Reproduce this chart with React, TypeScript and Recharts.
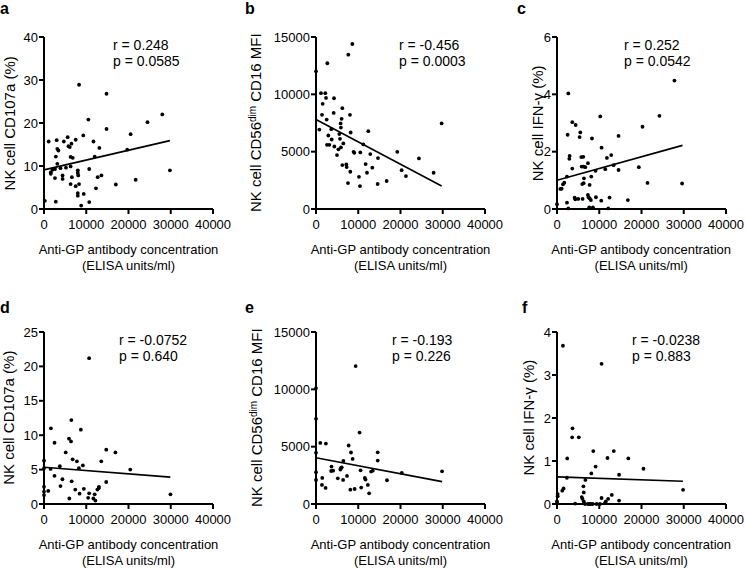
import React from 'react'
import { ScatterChart, Scatter, XAxis, YAxis, ReferenceLine } from 'recharts'

type Pt = { x: number; y: number }

const pts = (rows: number[][]): Pt[] => rows.map(([x, y]) => ({ x, y }))

const xTicks = [0, 10000, 20000, 30000, 40000]

// a: NK cell CD107a (%), all
const cd107aA = pts([
  [200, 1.9], [1100, 15.7], [1600, 8.5], [1600, 8.2], [2000, 9.1], [2600, 9.3], [2600, 7.2], [2800, 12.2],
  [2800, 1.7], [3000, 16.0], [3150, 14.0], [3150, 10.5], [3400, 13.6], [3900, 9.5], [4400, 7.8], [4400, 7.0],
  [4700, 15.7], [5200, 9.6], [5600, 16.7], [5800, 14.6], [6100, 14.4], [6500, 15.2], [6300, 12.1], [6300, 9.9],
  [6600, 7.4], [6800, 11.9], [6300, 5.8], [7500, 16.1], [8000, 9.0], [8000, 8.4], [8100, 7.8], [7500, 5.3],
  [8000, 3.7], [8000, 3.1], [8300, 28.9], [8300, 5.8], [8800, 0.8], [9300, 17.1], [9400, 3.5], [10500, 20.8],
  [10700, 9.3], [10700, 1.6], [11700, 15.7], [12000, 12.2], [12300, 4.8], [12700, 7.4], [13100, 14.2], [13600, 7.8],
  [14800, 26.8], [14800, 18.6], [17000, 5.7], [19700, 13.8], [20500, 17.4], [21700, 6.8], [24500, 20.2],
  [28000, 22.0], [29800, 9.0],
])
const cd107aAFit = pts([[0, 9.1], [29800, 15.9]])

// b: CD56dim CD16 MFI, all
const cd16B = pts([
  [0, 12010], [8600, 14390], [7650, 13460], [2680, 12710], [1180, 10100], [2200, 10100], [2370, 9690],
  [4260, 9660], [1580, 9170], [6230, 8790], [1420, 8210], [8040, 8210], [4180, 8380], [2520, 7800], [6070, 7860],
  [790, 6930], [3630, 6960], [5830, 7460], [5900, 7100], [8200, 6670], [2920, 6410], [3710, 6060], [5520, 6530],
  [5680, 6120], [6470, 5720], [2600, 5600], [3150, 5600], [4340, 5450], [4970, 4700], [5300, 5200], [5900, 5370],
  [12380, 6790], [11200, 5630], [9070, 4900], [8900, 4990], [10490, 4930], [12850, 4790], [14670, 4440],
  [19240, 4990], [24370, 4410], [29730, 7460], [6230, 3830], [7180, 3890], [7260, 3660], [8120, 3250],
  [11750, 3920], [13330, 3600], [12070, 3160], [20270, 3390], [21290, 2870], [27840, 3160], [10170, 2810],
  [7570, 2260], [10410, 2000], [14590, 2180], [16720, 2440],
])
const cd16BFit = pts([[0, 7800], [29730, 2000]])

// c: NK cell IFN-γ (%), all
const ifngC = pts([
  [0, 0.17], [2680, 4.03], [2360, 0.22], [2680, 0.02], [2520, 2.59], [3620, 3.03], [4410, 2.93], [5510, 2.67],
  [5350, 2.51], [8270, 2.46], [10240, 3.23], [2910, 1.75], [2990, 1.85], [5750, 1.81], [6220, 1.82], [7320, 1.6],
  [3620, 1.41], [5830, 1.48], [6300, 1.48], [6690, 1.46], [2360, 1.13], [1730, 0.92], [1420, 0.86], [1100, 0.71],
  [790, 0.7], [6380, 1.07], [8110, 1.13], [5980, 0.87], [6300, 0.9], [7720, 0.84], [9130, 1.33], [10550, 2.14],
  [11810, 1.78], [12830, 1.88], [11420, 1.39], [13390, 1.53], [14570, 2.55], [14570, 1.36], [19370, 1.46],
  [20240, 2.87], [21420, 0.91], [24250, 3.25], [27800, 4.48], [29610, 0.89], [4170, 0.4], [4330, 0.34],
  [5040, 0.35], [6060, 0.35], [7320, 0.49], [7480, 0.41], [7720, 0.37], [8030, 0.31], [9210, 0.41], [10470, 0.29],
  [12440, 0.4], [16770, 0.31], [7640, 0.06], [8500, 0.06], [12130, 0.02],
])
const ifngCFit = pts([[0, 1.0], [29700, 2.22]])

// d: NK cell CD107a (%), subset
const cd107aD = pts([
  [0, 6.3], [0, 5.2], [0, 2.5], [0, 1.8], [0, 1.3], [1000, 1.9], [1640, 11.0], [2490, 8.9], [1560, 5.1],
  [2490, 4.1], [3740, 5.5], [4360, 3.6], [3900, 2.6], [5140, 7.5], [5920, 9.5], [6390, 9.1], [6470, 12.2],
  [6780, 6.5], [6550, 3.3], [6000, 0.8], [7790, 6.2], [8260, 5.2], [8730, 10.8], [9200, 5.6], [7400, 2.1],
  [8420, 1.5], [9430, 2.2], [10680, 21.2], [10440, 0.9], [10680, 1.55], [11690, 0.8], [12000, 1.4], [12160, 0.5],
  [12630, 2.1], [12940, 2.3], [13010, 2.5], [13560, 6.2], [14730, 7.9], [14730, 3.2], [16910, 7.5], [20420, 5.0],
  [29930, 1.4],
])
const cd107aDFit = pts([[0, 5.35], [29900, 3.9]])

// e: CD56dim CD16 MFI, subset
const cd16E = pts([
  [0, 10110], [0, 7430], [0, 4460], [0, 2770], [0, 2100], [1020, 5330], [2340, 5270], [1480, 2270], [1410, 1660],
  [2270, 1400], [9380, 12030], [10310, 6230], [7730, 5100], [8280, 4490], [8670, 3930], [6480, 3760], [3670, 3260],
  [3590, 2880], [4060, 2910], [5860, 3120], [6090, 3200], [5780, 3000], [5160, 2240], [6410, 2100], [7340, 2450],
  [10550, 2940], [11560, 2270], [11720, 2130], [12270, 1660], [8130, 1250], [9140, 1310], [10700, 1430],
  [12580, 930], [13050, 2830], [13440, 2910], [14610, 4510], [14610, 3790], [16800, 2070], [20310, 2710],
  [29840, 2850],
])
const cd16EFit = pts([[0, 4040], [29840, 1950]])

// f: NK cell IFN-γ (%), subset
const ifngF = pts([
  [1410, 3.68], [10550, 3.26], [3670, 1.76], [3590, 1.55], [5160, 1.55], [2420, 1.06], [8590, 1.23], [13440, 1.23],
  [11950, 1.07], [16880, 1.06], [9140, 0.87], [8130, 0.71], [14690, 0.68], [20470, 0.82], [29840, 0.33],
  [2340, 0.61], [6720, 0.56], [6250, 0.41], [6330, 0.27], [1560, 0.36], [1250, 0.31], [160, 0.23], [160, 0.18],
  [0, 0.06], [0, 0.02], [5860, 0.16], [6020, 0.12], [6330, 0.06], [4300, 0.01], [6640, 0], [7340, 0], [7660, 0],
  [8050, 0], [8440, 0], [9380, 0], [10160, 0], [10550, 0.14], [11330, 0.02], [11560, 0.06], [12110, 0.12],
  [12970, 0.21], [14690, 0.08],
])
const ifngFFit = pts([[0, 0.63], [29800, 0.53]])

const stats = [
  ['r = 0.248', 'p = 0.0585'],
  ['r = -0.456', 'p = 0.0003'],
  ['r = 0.252', 'p = 0.0542'],
  ['r = -0.0752', 'p = 0.640'],
  ['r = -0.193', 'p = 0.226'],
  ['r = -0.0238', 'p = 0.883'],
]

const FONT = 'Arial, "Liberation Sans", Helvetica, sans-serif'
const PW = 169
const PH = 172
const YW = 60
const MT = 20

const Dot = (props: any) => <circle cx={props.cx} cy={props.cy} r={1.9} fill="#000" />

function Panel({ left, top, data, fit, yDomain, yTicks }: {
  left: number; top: number; data: Pt[]; fit: Pt[]; yDomain: number[]; yTicks: number[]
}) {
  return (
    <div style={{ position: 'absolute', left: left - YW, top: top - MT }}>
      <ScatterChart width={YW + PW + 21} height={MT + PH + 70} margin={{ top: MT, right: 21, bottom: 0, left: 0 }}>
        <XAxis
          type="number"
          dataKey="x"
          domain={[0, 40000]}
          ticks={xTicks}
          interval={0}
          height={70}
          tickSize={5}
          tickMargin={6}
          axisLine={{ stroke: '#000', strokeWidth: 2 }}
          tickLine={{ stroke: '#000', strokeWidth: 2 }}
          tick={{ fill: '#000', fontSize: 13, fontFamily: FONT }}
        />
        <YAxis
          type="number"
          dataKey="y"
          domain={yDomain}
          ticks={yTicks}
          interval={0}
          width={YW}
          tickSize={5}
          tickMargin={1}
          axisLine={{ stroke: '#000', strokeWidth: 2 }}
          tickLine={{ stroke: '#000', strokeWidth: 2 }}
          tick={{ fill: '#000', fontSize: 13, fontFamily: FONT }}
        />
        <Scatter data={data} fill="#000" shape={Dot} isAnimationActive={false} />
        <ReferenceLine segment={[fit[0], fit[1]]} stroke="#000" strokeWidth={1.6} />
      </ScatterChart>
    </div>
  )
}

const panels = [
  { letter: 'a', lx: 0, ly: 13.5, left: 44, top: 37.3, data: cd107aA, fit: cd107aAFit, yDomain: [0, 40], yTicks: [0, 10, 20, 30, 40], ylab: 'cd107a', yx: 15.5, sx: 113, sy: 50 },
  { letter: 'b', lx: 245, ly: 13.5, left: 316, top: 36.7, data: cd16B, fit: cd16BFit, yDomain: [0, 15000], yTicks: [0, 5000, 10000, 15000], ylab: 'cd16', yx: 261, sx: 399, sy: 50 },
  { letter: 'c', lx: 517, ly: 13.5, left: 556.7, top: 37.3, data: ifngC, fit: ifngCFit, yDomain: [0, 6], yTicks: [0, 2, 4, 6], ylab: 'ifng', yx: 543, sx: 624, sy: 50 },
  { letter: 'd', lx: 0, ly: 313.3, left: 44, top: 331.7, data: cd107aD, fit: cd107aDFit, yDomain: [0, 25], yTicks: [0, 5, 10, 15, 20, 25], ylab: 'cd107a', yx: 14.5, sx: 119, sy: 345 },
  { letter: 'e', lx: 245, ly: 313.3, left: 316, top: 331.7, data: cd16E, fit: cd16EFit, yDomain: [0, 15000], yTicks: [0, 5000, 10000, 15000], ylab: 'cd16', yx: 262, sx: 392, sy: 345 },
  { letter: 'f', lx: 522, ly: 313.3, left: 556.7, top: 331.7, data: ifngF, fit: ifngFFit, yDomain: [0, 4], yTicks: [0, 1, 2, 3, 4], ylab: 'ifng', yx: 534, sx: 632, sy: 345 },
]

function YLabel({ kind }: { kind: string }) {
  if (kind === 'cd16') {
    return (
      <>
        NK cell CD56<tspan dy={-5} fontSize={10}>dim</tspan><tspan dy={5}> CD16 MFI</tspan>
      </>
    )
  }
  if (kind === 'ifng') return <>NK cell IFN-γ (%)</>
  return <>NK cell CD107a (%)</>
}

export default function App() {
  return (
    <div style={{ position: 'absolute', left: 0, top: 0, width: 746, height: 569, background: '#fff', overflow: 'hidden', fontFamily: FONT }}>
      {panels.map((p) => (
        <Panel key={p.letter} left={p.left} top={p.top} data={p.data} fit={p.fit} yDomain={p.yDomain} yTicks={p.yTicks} />
      ))}
      <svg width={746} height={569} style={{ position: 'absolute', left: 0, top: 0, pointerEvents: 'none' }} fontFamily={FONT} fill="#000">
        {panels.map((p, i) => {
          const cy = p.top + PH / 2
          const bottom = p.top + PH
          const cx = p.left + PW / 2
          return (
            <g key={p.letter}>
              <text x={p.lx} y={p.ly} fontSize={16} fontWeight="bold">{p.letter}</text>
              <text x={p.sx} y={p.sy} fontSize={14}>{stats[i][0]}</text>
              <text x={p.sx} y={p.sy + 16} fontSize={14}>{stats[i][1]}</text>
              <text x={p.yx} y={cy} fontSize={15} textAnchor="middle" transform={`rotate(-90 ${p.yx} ${cy})`}>
                <YLabel kind={p.ylab} />
              </text>
              <text x={cx} y={bottom + 45} fontSize={13} textAnchor="middle">Anti-GP antibody concentration</text>
              <text x={cx} y={bottom + 61} fontSize={13} textAnchor="middle">(ELISA units/ml)</text>
            </g>
          )
        })}
      </svg>
    </div>
  )
}
